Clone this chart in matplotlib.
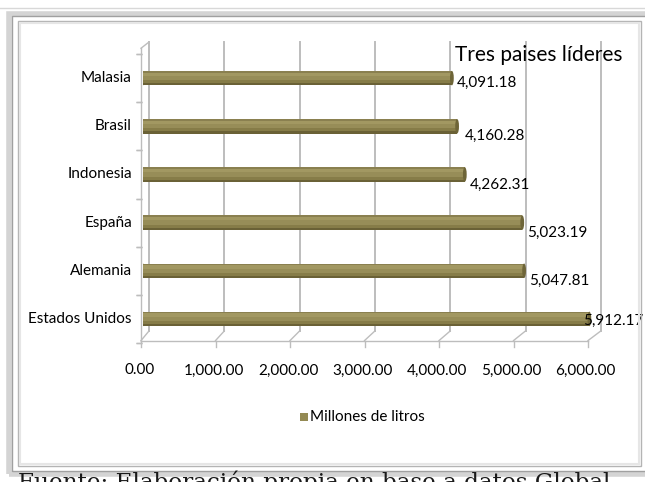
import matplotlib
matplotlib.use("Agg")
import matplotlib.pyplot as plt
import matplotlib.transforms as mtransforms
from matplotlib.patches import Rectangle, Ellipse
import numpy as np

# ---- data ----
countries = ["Estados Unidos", "Alemania", "España", "Indonesia", "Brasil", "Malasia"]
values = [5912.17, 5047.81, 5023.19, 4262.31, 4160.28, 4091.18]
xticks = [0, 1000, 2000, 3000, 4000, 5000, 6000]
xtick_labels = ["0.00", "1,000.00", "2,000.00", "3,000.00", "4,000.00", "5,000.00", "6,000.00"]
series_name = "Millones de litros"
title = "Tres paises líderes"
source = "Fuente: Elaboración propia en base a datos Global"

# label placement offsets (px) as drawn by the original chart
label_dx = [-6, 5, 5, 5, 8, 5]
label_dy = [2, 10, 10, 10, 10, 5]

W, H = 645, 482
fig = plt.figure(figsize=(W / 100, H / 100), dpi=100)
fig.patch.set_facecolor("white")

lab_font = ["Lato", "DejaVu Sans"]

# ---- frame (picture border) ----
def px_rect(x0, y0, x1, y1, **kw):
    r = Rectangle((x0 / W, 1 - y1 / H), (x1 - x0) / W, (y1 - y0) / H,
                  transform=fig.transFigure, fill=False, **kw)
    fig.add_artist(r)

fig.add_artist(plt.Line2D([0, 1], [1 - 8 / H, 1 - 8 / H], transform=fig.transFigure,
                          color="#d8d8d8", lw=1.0))
px_rect(9, 14, 652, 474, edgecolor="#d4d4d4", linewidth=4.0)
px_rect(12, 16, 652, 471, edgecolor="#a0a0a0", linewidth=1.0)
px_rect(18, 21, 641, 466, edgecolor="#b4b4b4", linewidth=1.0)
px_rect(20, 23, 639, 464, edgecolor="#e6e6e6", linewidth=1.5)

# ---- axes ----
x0_px, x1_px = 143, 596
y_top, y_bot = 42, 343
ax = fig.add_axes([x0_px / W, 1 - y_bot / H, (x1_px - x0_px) / W, (y_bot - y_top) / H])
ax.set_xlim(0, 6000)
ax.set_ylim(-0.5, 5.75)
ax.axis("off")
ax.patch.set_alpha(0)

dpi_tr = fig.dpi_scale_trans
def off(dx, dy):
    return ax.transData + mtransforms.ScaledTranslation(dx / 100, -dy / 100, dpi_tr)

def fig_line(p0, p1, **kw):
    fig.add_artist(plt.Line2D([p0[0] / fig.bbox.width, p1[0] / fig.bbox.width],
                              [p0[1] / fig.bbox.height, p1[1] / fig.bbox.height],
                              transform=fig.transFigure, **kw))

grid_col = "#bdbdbd"
for v in xticks:
    tr_back = off(6 - v * 0.0002, 0)
    tr_front = off(-2 - v * 0.001, 0)
    ax.plot([v, v], [-0.25, 5.75], color=grid_col, lw=1.4, transform=tr_back, clip_on=False)
    fig_line(tr_back.transform((v, -0.25)), tr_front.transform((v, -0.45)), color=grid_col, lw=1.0)
    ax.plot([v, v], [-0.45, -0.58], color=grid_col, lw=1.0, transform=tr_front, clip_on=False)

# front floor line
fig_line(off(-2, 0).transform((0, -0.45)), off(-8, 0).transform((6000, -0.45)), color=grid_col, lw=1.0)
# left wall line
ax.plot([0, 0], [-0.45, 5.62], color=grid_col, lw=1.0, clip_on=False, transform=off(-2, 0))
fig_line(off(-2, 0).transform((0, 5.62)), off(6, 0).transform((0, 5.75)), color=grid_col, lw=1.0)
for i in range(len(countries) + 1):
    yb = i - 0.5
    ax.plot([0, 0], [yb, yb], marker="_", ms=4, color=grid_col, transform=off(-4, 0), clip_on=False)

# ---- bars (cylinder look via stacked bands) ----
ypos = np.arange(len(countries))
bar_h = 0.3
base = "#948a54"
bands = [
    (-0.5, -0.36, "#6a6136"),
    (-0.36, -0.15, "#867c48"),
    (-0.15, 0.15, "#978d58"),
    (0.15, 0.38, "#a29862"),
    (0.38, 0.5, "#8a8050"),
]
for (a, b, c) in bands:
    ax.barh(ypos + (a + b) / 2 * bar_h, values, height=(b - a) * bar_h, left=0,
            color=c, edgecolor="none", zorder=3)
for y, v in zip(ypos, values):
    ax.add_patch(Ellipse((v, y), width=50, height=bar_h, facecolor="#6e6538",
                         edgecolor="none", zorder=4))
    ax.add_patch(Ellipse((0, y), width=50, height=bar_h, facecolor="#a29862",
                         edgecolor="none", zorder=2))

# data labels
for y, v, dx, dy in zip(ypos, values, label_dx, label_dy):
    ax.text(v, y, f"{v:,.2f}", ha="left", va="center", fontsize=11,
            family=lab_font, color="black", zorder=5, clip_on=False, transform=off(dx, dy))

# category labels
for y, c in zip(ypos, countries):
    ax.text(0, y, c, ha="right", va="center", fontsize=11, family=lab_font, color="black",
            clip_on=False, transform=off(-11, 0))

# x tick labels
for v, lab in zip(xticks, xtick_labels):
    ax.text(v, -1.07, lab, ha="center", va="center", fontsize=11, family=lab_font,
            color="black", clip_on=False, transform=off(-3 - v * 0.0012, 0))

# title
fig.text(455 / W, 1 - 55 / H, title, ha="left", va="center", fontsize=15, family=lab_font)

# legend
fig.add_artist(Rectangle((300 / W, 1 - 421 / H), 8 / W, 8 / H, transform=fig.transFigure,
                         facecolor=base, edgecolor="none"))
fig.text(310 / W, 1 - 417 / H, series_name, ha="left", va="center", fontsize=11, family=lab_font)

# source text (cut off at bottom), fitted to width
src = fig.text(18 / W, 1 - 471 / H, source, ha="left", va="top", fontsize=18,
               family=["DejaVu Serif"], color="#1a1a1a")
fig.canvas.draw()
w = src.get_window_extent().width
src.set_fontsize(18 * 594 / w)

fig.savefig("out.png", dpi=100, facecolor="white")
